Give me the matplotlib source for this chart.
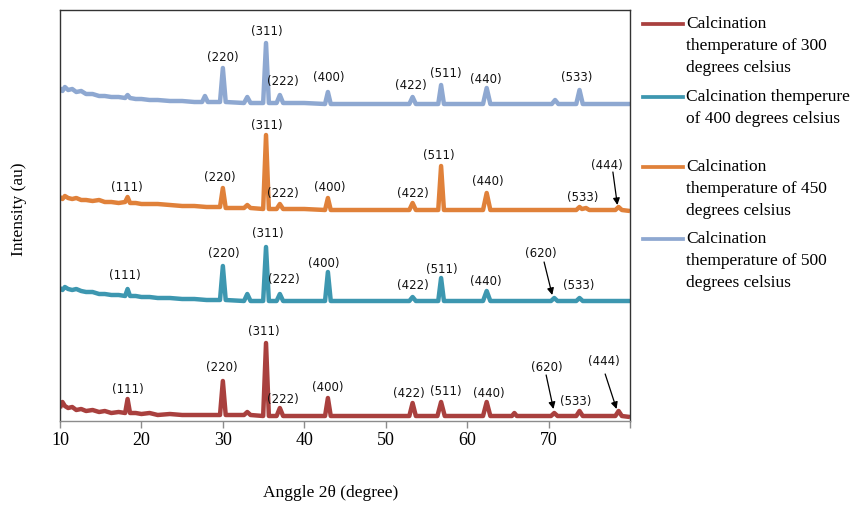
"""
XRD patterns at four calcination temperatures (stacked traces)
"""

import matplotlib
matplotlib.use("Agg")
import matplotlib.pyplot as plt
from matplotlib.lines import Line2D

# ---- data: (2theta, intensity above own offset) ----
red_pts = [(10.0, 13), (10.3, 19), (10.6, 15), (11.0, 13), (11.5, 14), (12.0, 11), (12.6, 12),
           (13.2, 10), (14, 11), (14.8, 9), (15.5, 10), (16.3, 8), (17.2, 9),
           (18.0, 8), (18.3, 22), (18.6, 8), (19.3, 8), (20, 7), (21, 8), (22, 6), (23.5, 7),
           (25, 6), (26.5, 6), (28, 6),
           (29.65, 6), (30.0, 40), (30.35, 6), (32.6, 6), (33.0, 9), (33.4, 6),
           (34.95, 5), (35.3, 78), (35.65, 5), (36.6, 5), (37.0, 13), (37.4, 5),
           (40, 5), (42.55, 5), (42.9, 23), (43.25, 5), (46, 5), (50, 5),
           (52.9, 5), (53.3, 18), (53.7, 5), (56.35, 5), (56.8, 19), (57.25, 5),
           (61.95, 5), (62.4, 19), (62.85, 5), (65.5, 5), (65.8, 8), (66.1, 5),
           (70.3, 5), (70.7, 8), (71.1, 5), (73.4, 5), (73.8, 10), (74.2, 5),
           (78.2, 5), (78.6, 10), (79.0, 5), (80, 4)]

teal_pts = [(10.0, 18), (10.3, 16), (10.6, 19), (11.0, 17), (11.5, 16), (12.0, 17), (12.6, 15),
            (13.2, 14), (14, 14), (14.8, 12), (15.5, 12), (16.3, 11), (17.2, 11),
            (18.0, 10), (18.3, 17), (18.6, 10), (19.3, 10), (20, 9), (21, 9), (22, 8), (23.5, 8),
            (25, 7), (26.5, 7), (28, 6),
            (29.65, 6), (30.0, 40), (30.35, 6), (32.6, 5), (33.0, 12), (33.4, 5),
            (34.95, 5), (35.3, 59), (35.65, 5), (36.6, 5), (37.0, 12), (37.4, 5),
            (40, 5), (42.55, 5), (42.9, 34), (43.25, 5), (46, 5), (50, 5),
            (52.9, 5), (53.3, 9), (53.7, 5), (56.45, 5), (56.8, 28), (57.15, 5),
            (61.95, 5), (62.4, 15), (62.85, 5), (70.3, 5), (70.7, 8), (71.1, 5),
            (73.4, 5), (73.8, 8), (74.2, 5), (80, 5)]

orange_pts = [(10.0, 19), (10.3, 17), (10.6, 20), (11.0, 18), (11.5, 17), (12.0, 18), (12.6, 16),
              (13.2, 16), (14, 15), (14.8, 16), (15.5, 14), (16.3, 14), (17.2, 13),
              (18.0, 14), (18.3, 19), (18.6, 13), (19.3, 13), (20, 12), (21, 12), (22, 12),
              (23.5, 11), (25, 10), (26.5, 10), (28, 9),
              (29.65, 9), (30.0, 28), (30.35, 8), (32.6, 8), (33.0, 11), (33.4, 8),
              (34.95, 7), (35.3, 81), (35.65, 7), (36.6, 7), (37.0, 12), (37.4, 7),
              (40, 7), (42.55, 6), (42.9, 18), (43.25, 6), (46, 6), (50, 6),
              (52.9, 6), (53.3, 13), (53.7, 6), (56.45, 6), (56.8, 50), (57.15, 6),
              (61.95, 6), (62.4, 23), (62.85, 6), (70, 6), (73.4, 6), (73.8, 9),
              (74.1, 7), (74.6, 8), (75, 6), (78.2, 6), (78.6, 9), (79.0, 6), (80, 5)]

blue_pts = [(10.0, 23), (10.3, 20), (10.6, 24), (11.0, 21), (11.5, 22), (12.0, 19), (12.6, 20),
            (13.2, 17), (14, 17), (14.8, 15), (15.5, 15), (16.3, 14), (17.2, 14),
            (18.0, 13), (18.3, 16), (18.6, 13), (19.3, 12), (20, 12), (21, 11), (22, 11),
            (23.5, 10), (25, 10), (26.5, 9),
            (27.45, 9), (27.8, 15), (28.15, 9), (29.65, 9), (30.0, 43), (30.35, 9),
            (32.6, 8), (33.0, 14), (33.4, 8), (34.95, 8), (35.3, 68), (35.65, 8),
            (36.6, 8), (37.0, 16), (37.4, 8), (40, 8), (42.55, 7), (42.9, 19), (43.25, 7),
            (46, 7), (50, 7), (52.9, 7), (53.3, 14), (53.7, 7), (56.45, 7), (56.8, 26),
            (57.15, 7), (61.95, 7), (62.4, 23), (62.85, 7), (70.4, 7), (70.8, 11),
            (71.2, 7), (73.4, 7), (73.8, 21), (74.2, 7), (80, 7)]

offsets = [0, 115, 205, 310]
series = [red_pts, teal_pts, orange_pts, blue_pts]
colors = ["#A9403E", "#3D97B0", "#E0813A", "#8EA8D1"]
legend_lines = [
    ["Calcination", "themperature of 300", "degrees celsius"],
    ["Calcination themperure", "of 400 degrees celsius"],
    ["Calcination", "themperature of 450", "degrees celsius"],
    ["Calcination", "themperature of 500", "degrees celsius"],
]

# peak labels: (text, x, y) and arrows ((x0, y0) -> (x1, y1))
peak_labels = [
    # 500
    ("(220)", 30.0, 364), ("(311)", 35.4, 389), ("(222)", 37.4, 339), ("(400)", 43.0, 343),
    ("(422)", 53.1, 335), ("(511)", 57.4, 348), ("(440)", 62.3, 342), ("(533)", 73.5, 344),
    # 450
    ("(111)", 18.2, 234), ("(220)", 29.65, 244), ("(311)", 35.4, 295), ("(222)", 37.4, 228),
    ("(400)", 43.15, 234), ("(422)", 53.35, 227), ("(511)", 56.55, 266), ("(440)", 62.55, 239),
    ("(533)", 74.2, 224), ("(444)", 77.2, 256),
    # 400
    ("(111)", 18.0, 145), ("(220)", 30.15, 168), ("(311)", 35.55, 188), ("(222)", 37.5, 141),
    ("(400)", 42.4, 158), ("(422)", 53.35, 135), ("(511)", 56.9, 151), ("(440)", 62.3, 140),
    ("(620)", 69.05, 168), ("(533)", 73.75, 135),
    # 300
    ("(111)", 18.35, 31), ("(220)", 29.9, 53), ("(311)", 35.05, 90), ("(222)", 37.4, 22),
    ("(400)", 42.9, 34), ("(422)", 52.85, 28), ("(511)", 57.4, 29), ("(440)", 62.7, 28),
    ("(620)", 69.8, 53), ("(533)", 73.35, 20), ("(444)", 76.8, 59),
]
arrows = [
    ((77.9, 249), (78.45, 216)),
    ((69.45, 159), (70.45, 126)),
    ((69.7, 46), (70.6, 12)),
    ((76.95, 47), (78.35, 12)),
]

W, H = 864, 505
fig = plt.figure(figsize=(W / 100, H / 100), dpi=100)
ax = fig.add_axes([60 / W, 1 - 421 / H, 570 / W, 411 / H])

for pts, off, c in zip(series, offsets, colors):
    xs = [p[0] for p in pts]
    ys = [p[1] + off for p in pts]
    ax.plot(xs, ys, color=c, lw=3.2, solid_joinstyle="round", solid_capstyle="butt")

for txt, x, y in peak_labels:
    ax.text(x, y, txt, ha="center", va="center", fontsize=8.5,
            family="DejaVu Sans", color="#111111")
for (x0, y0), (x1, y1) in arrows:
    ax.annotate("", xy=(x1, y1), xytext=(x0, y0),
                arrowprops=dict(arrowstyle="-|>", color="black", lw=0.9,
                                mutation_scale=10, shrinkA=0, shrinkB=0))

ax.set_xlim(10, 80)
ax.set_ylim(0, 411)
ax.set_yticks([])
ax.set_xticks(range(10, 81, 10))
ax.set_xticklabels(["10", "20", "30", "40", "50", "60", "70", ""])
ax.tick_params(axis="x", direction="out", length=5, width=1, color="#8c8c8c",
               pad=3, labelsize=13, labelfontfamily="Liberation Serif")
for s in ["top", "left", "right"]:
    ax.spines[s].set_color("#333333")
    ax.spines[s].set_linewidth(1.0)
ax.spines["bottom"].set_color("#8c8c8c")
ax.spines["bottom"].set_linewidth(1.0)

fig.text(331 / W, 1 - 493 / H, "Anggle 2θ (degree)", ha="center", va="center",
         fontsize=12.5, family="Liberation Serif")
fig.text(19 / W, 1 - 209 / H, "Intensity (au)", ha="center", va="center",
         rotation=90, fontsize=12.5, family="Liberation Serif")

# legend drawn by hand, Excel-style spacing
entry_tops = [24, 97, 167, 239]
for lines, c, y0 in zip(legend_lines, colors, entry_tops):
    fig.add_artist(Line2D([643 / W, 683 / W], [1 - y0 / H, 1 - y0 / H],
                          color=c, lw=2.7, transform=fig.transFigure))
    for i, line in enumerate(lines):
        fig.text(686 / W, 1 - (y0 + i * 21.8) / H, line, ha="left", va="center",
                 fontsize=12.5, family="Liberation Serif")

fig.savefig("out.png", dpi=100)
